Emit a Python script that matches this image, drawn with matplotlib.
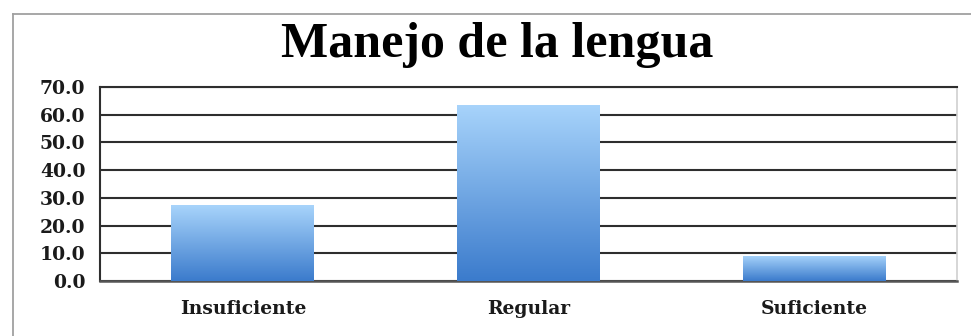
import numpy as np
import matplotlib
matplotlib.use("Agg")
import matplotlib.pyplot as plt
from matplotlib.colors import LinearSegmentedColormap
from matplotlib.lines import Line2D

categories = ["Insuficiente", "Regular", "Suficiente"]
values = [27.3, 63.6, 9.1]
yticks = [0, 10, 20, 30, 40, 50, 60, 70]
title = "Manejo de la lengua"

W, H = 971, 336
fig = plt.figure(figsize=(W / 100, H / 100), dpi=100)
fig.patch.set_facecolor("white")

# outer chart frame (top and left edges visible)
fig.add_artist(Line2D([12.5 / W, 12.5 / W], [0, 1 - 14 / H], transform=fig.transFigure,
                      color="#a0a0a0", lw=1.3))
fig.add_artist(Line2D([12.5 / W, 1], [1 - 14 / H, 1 - 14 / H], transform=fig.transFigure,
                      color="#a0a0a0", lw=1.3))

ax = fig.add_axes([100 / W, 1 - 281 / H, (957 - 100) / W, (281 - 87) / H])
ax.set_xlim(-0.5, len(categories) - 0.5)
ax.set_ylim(0, 70)

ax.set_yticks(yticks)
ax.set_yticklabels([f"{v:.1f}" for v in yticks], fontfamily="DejaVu Serif",
                   fontweight="bold", fontsize=13.5, color="#1a1a1a")
ax.set_xticks(range(len(categories)))
ax.set_xticklabels(categories, fontfamily="DejaVu Serif", fontweight="bold",
                   fontsize=13.5, color="#1a1a1a")
ax.tick_params(axis="y", length=0, pad=10.5)
ax.tick_params(axis="x", length=0, pad=14)

ax.grid(axis="y", color="#2e2e2e", lw=1.5)
ax.set_axisbelow(True)
ax.spines["left"].set_color("#2e2e2e")
ax.spines["left"].set_linewidth(1.5)
ax.spines["bottom"].set_color("#555555")
ax.spines["bottom"].set_linewidth(1.8)
ax.spines["top"].set_color("#2e2e2e")
ax.spines["top"].set_linewidth(1.5)
ax.spines["right"].set_color("#d0d0d0")
ax.spines["right"].set_linewidth(1.2)

cmap = LinearSegmentedColormap.from_list("bluegrad", ["#3b7bcc", "#a8d4fb"])
grad = np.linspace(0, 1, 256).reshape(-1, 1)
bars = ax.bar(range(len(categories)), values, width=0.5, color="none", zorder=3)
for rect in bars:
    x0, w, h = rect.get_x(), rect.get_width(), rect.get_height()
    im = ax.imshow(grad, cmap=cmap, origin="lower", aspect="auto",
                   extent=(x0, x0 + w, 0, h), zorder=3)
    im.set_clip_path(rect)
ax.set_xlim(-0.5, len(categories) - 0.5)
ax.set_ylim(0, 70)

fig.text(497.5 / W, 1 - 57 / H, title, ha="center", va="baseline",
         fontfamily="Liberation Serif", fontweight="bold", fontsize=36)

fig.savefig("out.png", dpi=100, facecolor="white")
